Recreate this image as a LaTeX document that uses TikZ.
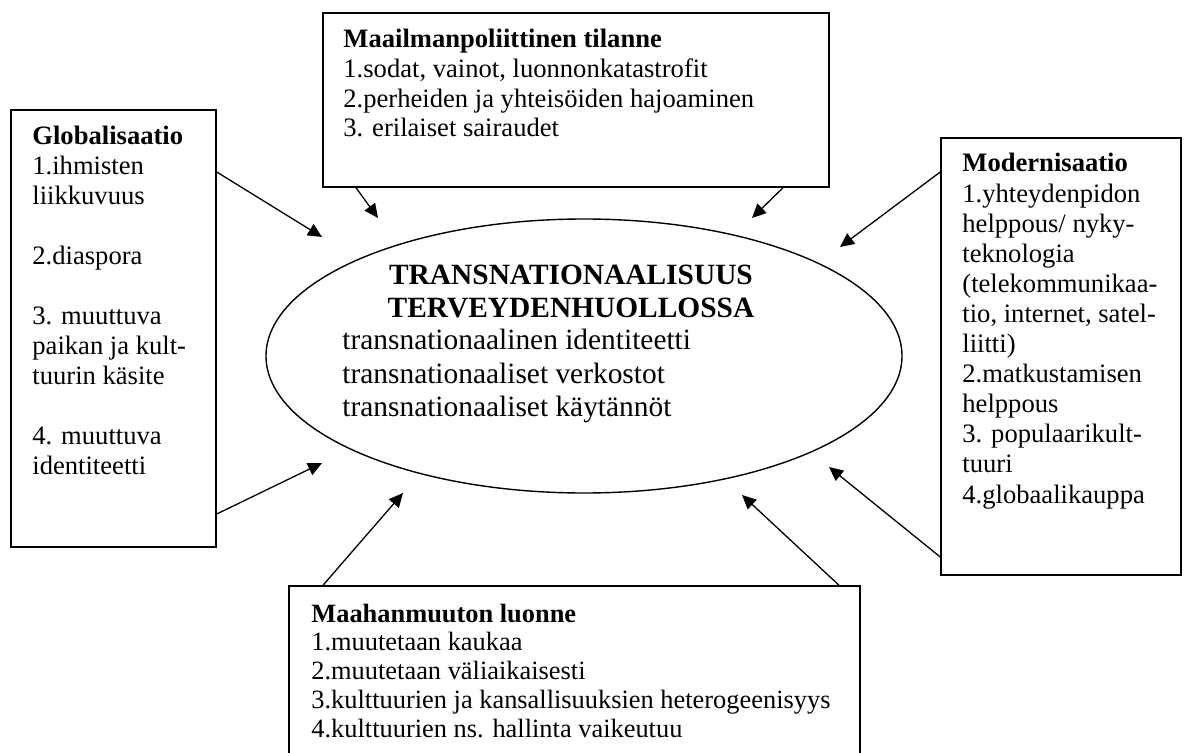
\documentclass[tikz,border=0pt]{standalone}
\usepackage{fontspec}
\setmainfont{Liberation Serif}
\usetikzlibrary{arrows.meta,shapes.geometric,fit}

\tikzset{
  x=0.5pt, y=-0.5pt,
  frame/.style={draw, line width=0.75pt, inner sep=0pt},
  lbl/.style={inner sep=0pt, anchor=base west},
  feed/.style={line width=0.65pt, -{Triangle[length=7pt,width=6.5pt]}},
}
\newcommand{\itemlist}[1]{\begin{tabular}[t]{@{}l@{}}#1\end{tabular}}
\newcommand{\centerlist}[1]{\begin{tabular}[t]{@{}c@{}}#1\end{tabular}}

\begin{document}
\begin{tikzpicture}
\useasboundingbox (0,0) rectangle (1187,753);
\clip (0,0) rectangle (1187,753);

% boxes
\node[frame, fit={(323,13) (829,187)}] (world) {};
\node[frame, fit={(11,110) (216,547)}] (glob) {};
\node[frame, fit={(941,138) (1181,575)}] (modern) {};
\node[frame, fit={(289,586) (860,790)}] (migr) {};

% central ellipse
\node[draw, line width=0.7pt, ellipse, minimum width=318pt, minimum height=137pt, inner sep=0pt] (core) at (584,356) {};

% box texts
\node[lbl, font=\fontsize{13.3}{14.8}\selectfont] (worldtxt) at (343,48) {\itemlist{%
  \textbf{Maailmanpoliittinen tilanne}\\
  1.sodat, vainot, luonnonkatastrofit\\
  2.perheiden ja yhteisöiden hajoaminen\\
  3. erilaiset sairaudet}};

\node[lbl, font=\fontsize{13.3}{15}\selectfont] (globtxt) at (32,145) {\itemlist{%
  \textbf{Globalisaatio}\\
  1.ihmisten\\
  liikkuvuus\\
  \\
  2.diaspora\\
  \\
  3. muuttuva\\
  paikan ja kult-\\
  tuurin käsite\\
  \\
  4. muuttuva\\
  identiteetti}};

\node[lbl, font=\fontsize{13.3}{15.05}\selectfont] (moderntxt) at (962,172) {\itemlist{%
  \textbf{Modernisaatio}\\
  1.yhteydenpidon\\
  helppous/ nyky-\\
  teknologia\\
  (telekommunikaa-\\
  tio, internet, satel-\\
  liitti)\\
  2.matkustamisen\\
  helppous\\
  3. populaarikult-\\
  tuuri\\
  4.globaalikauppa}};

\node[lbl, font=\fontsize{13.2}{14.4}\selectfont] (migrtxt) at (311,622) {\itemlist{%
  \textbf{Maahanmuuton luonne}\\
  1.muutetaan kaukaa\\
  2.muutetaan väliaikaisesti\\
  3.kulttuurien ja kansallisuuksien heterogeenisyys\\
  4.kulttuurien ns. hallinta vaikeutuu}};

% ellipse texts
\node[inner sep=0pt, anchor=base, font=\bfseries\fontsize{14.7}{16.5}\selectfont] (coretitle) at (571,285)
  {\centerlist{TRANSNATIONAALISUUS\\TERVEYDENHUOLLOSSA}};
\node[lbl, font=\fontsize{14.7}{16.75}\selectfont] (corebody) at (342,350) {\itemlist{%
  transnationaalinen identiteetti\\
  transnationaaliset verkostot\\
  transnationaaliset käytännöt}};

% arrow tips near the ellipse
\coordinate (tGa) at (322,237);
\coordinate (tGb) at (322,463);
\coordinate (tWa) at (378,218);
\coordinate (tWb) at (752,218);
\coordinate (tMa) at (840,247);
\coordinate (tMb) at (829,467);
\coordinate (tIa) at (403,493);
\coordinate (tIb) at (742,495);

% connectors
\draw[feed] (glob.east |- 0,172) -- (tGa);
\draw[feed] (glob.east |- 0,514) -- (tGb);
\draw[feed] (world.south -| 356,0) -- (tWa);
\draw[feed] (world.south -| 783,0) -- (tWb);
\draw[feed] (modern.west |- 0,172) -- (tMa);
\draw[feed] (modern.west |- 0,557) -- (tMb);
\draw[feed] (migr.north -| 323,0) -- (tIa);
\draw[feed] (migr.north -| 839,0) -- (tIb);
\end{tikzpicture}
\end{document}
